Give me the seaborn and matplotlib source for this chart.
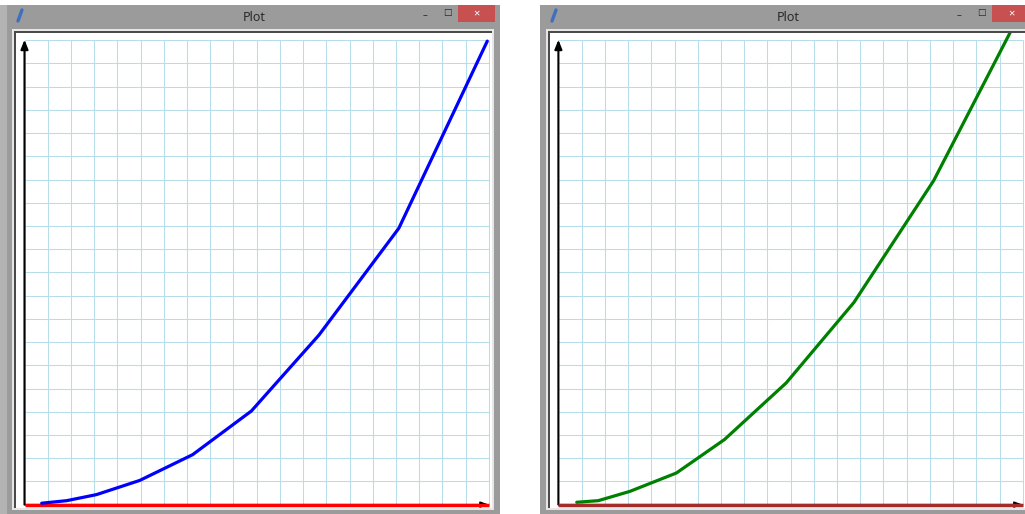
import numpy as np
import pandas as pd
import matplotlib
matplotlib.use("Agg")
import matplotlib.pyplot as plt
from matplotlib.patches import Rectangle
from matplotlib.lines import Line2D
import seaborn as sns

# Curve samples, in grid units (one unit = one grid cell)
blue_x = [0.74, 1.82, 3.10, 4.96, 7.24, 9.77, 12.68, 16.12, 19.93]
blue_y = [0.06, 0.17, 0.43, 1.04, 2.15, 4.03, 7.30, 11.90, 19.96]
green_x = [0.79, 1.72, 3.08, 5.08, 7.15, 9.81, 12.73, 16.16, 19.93]
green_y = [0.10, 0.17, 0.57, 1.36, 2.80, 5.24, 8.71, 13.95, 21.25]
grid_ticks = list(range(0, 21))
window_title = "Plot"

W, H = 1025, 514
sns.set_style("white")
plt.rcParams["font.family"] = ["Noto Sans", "DejaVu Sans"]

fig = plt.figure(figsize=(W / 100, H / 100), dpi=100)
fig.patch.set_facecolor("white")


def frect(x0, y0, x1, y1):
    return (x0 / W, 1 - y1 / H), (x1 - x0) / W, (y1 - y0) / H


def box(x0, y0, x1, y1, color, z=0):
    xy, w, h = frect(x0, y0, x1, y1)
    fig.add_artist(Rectangle(xy, w, h, transform=fig.transFigure,
                             facecolor=color, edgecolor="none", zorder=z))


def window(frame_left, left, right, close_x0, close_x1, title_cx):
    # frame and title bar
    box(frame_left, 5, right, 514, "#9b9b9b")
    # sunken canvas border
    box(left + 12, 29, left + 494, 510, "#e6e6e6")
    box(left + 14, 31, left + 492, 508, "#4a4a4a")
    # caption buttons
    box(close_x0, 5, close_x1, 22, "#c75050")
    fig.text(((close_x0 + close_x1) / 2) / W, 1 - 14 / H, "×", color="white",
             ha="center", va="center", fontsize=8)
    fig.text((close_x0 - 33) / W, 1 - 16 / H, "–", color="#222222",
             ha="center", va="center", fontsize=7)
    fig.text((close_x0 - 11) / W, 1 - 13 / H, "□", color="#222222",
             ha="center", va="center", fontsize=6.5)
    fig.text(title_cx / W, 1 - 17.5 / H, window_title, color="#2a2a2a",
             ha="center", va="center", fontsize=9)
    # feather icon
    fig.add_artist(Line2D([(left + 18) / W, (left + 22) / W],
                          [1 - 21 / H, 1 - 10 / H], transform=fig.transFigure,
                          color="#3f6fc0", lw=2.4, solid_capstyle="round"))


window(0, 0, 500, 458, 495, 254)
window(540, 534, 1068, 992, 1030, 788)
box(0, 5, 7, 514, "#b3b3b3")

UNIT = 23.22
ORIGIN_Y = 504.6
GRID_COLOR = "#b7dcea"


def canvas(x0, x1, origin_x, xs, ys, line_color, axis_color):
    xy, w, h = frect(x0, 33, x1, 508)
    ax = fig.add_axes([xy[0], xy[1], w, h])
    ax.set_facecolor("white")
    ax.set_xlim((x0 - origin_x) / UNIT, (x1 - origin_x) / UNIT)
    ax.set_ylim((ORIGIN_Y - 508) / UNIT, (ORIGIN_Y - 33) / UNIT)
    for s in ax.spines.values():
        s.set_visible(False)
    ax.set_xticks([])
    ax.set_yticks([])
    # grid paper
    ax.vlines(grid_ticks, 0, 20, color=GRID_COLOR, lw=0.75, zorder=1)
    ax.hlines(grid_ticks, 0, 20, color=GRID_COLOR, lw=0.75, zorder=1)
    # axes arrows
    ax.annotate("", xy=(0, 20.02), xytext=(0, 0),
                arrowprops=dict(arrowstyle="-|>,head_length=0.55,head_width=0.22",
                                color="black", lw=1.5, shrinkA=0, shrinkB=0),
                zorder=3)
    ax.annotate("", xy=(20, 0.0), xytext=(0, 0.0),
                arrowprops=dict(arrowstyle="-|>,head_length=0.5,head_width=0.18",
                                color="black", lw=1.0, shrinkA=0, shrinkB=0),
                zorder=3)
    ax.plot([0, 20], [-0.02, -0.02], color=axis_color, lw=2.5, zorder=4,
            solid_capstyle="butt")
    df = pd.DataFrame({"x": xs, "y": ys})
    sns.lineplot(data=df, x="x", y="y", ax=ax, color=line_color, lw=2.3,
                 estimator=None, sort=False, zorder=5)
    ax.set_xlabel("")
    ax.set_ylabel("")
    return ax


canvas(16, 492, 24.5, blue_x, blue_y, "#0000ff", "#ff0000")
canvas(550, 1025, 558.4, green_x, green_y, "#008000", "#a52a2a")

fig.savefig("out.png", dpi=100)
